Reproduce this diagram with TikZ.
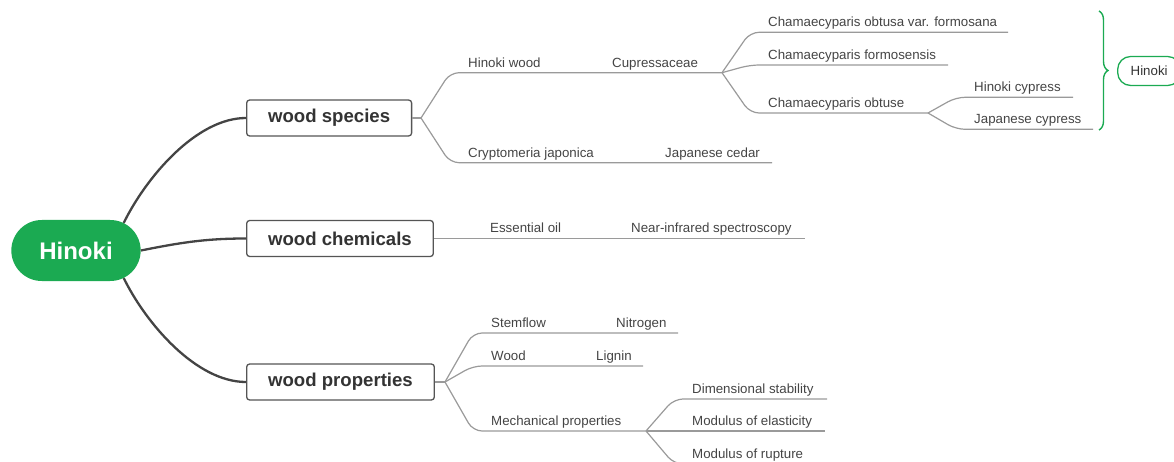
\documentclass[tikz,border=0pt]{standalone}
\usepackage{fontspec}
\setmainfont{Liberation Sans}
\usepackage{tikz}
\usetikzlibrary{shapes.misc,decorations.pathreplacing}
\definecolor{hgreen}{HTML}{1BAA52}
\definecolor{darktext}{HTML}{333333}
\definecolor{leaftext}{HTML}{444444}
\definecolor{boxline}{HTML}{555555}
\definecolor{trunk}{HTML}{444444}
\definecolor{twig}{HTML}{9A9A9A}
\tikzset{
  rootnode/.style={rounded rectangle, fill=hgreen, text=white, minimum width=136pt,
    minimum height=61pt, font=\bfseries\fontsize{24}{28}\selectfont},
  mainbox/.style={draw=boxline, fill=white, line width=1.3pt, rounded corners=3pt,
    anchor=west, minimum height=36pt, inner xsep=21.5pt, text=darktext,
    font=\bfseries\fontsize{18.6}{22}\selectfont},
  tagbox/.style={draw=hgreen, fill=white, line width=1.3pt, rounded corners=13pt,
    anchor=west, minimum height=29pt, inner xsep=13pt, text=darktext,
    font=\fontsize{13.3}{16}\selectfont},
  leaf/.style={anchor=base west, inner sep=0pt, xshift=18pt, yshift=5.5pt,
    text=leaftext, font=\fontsize{13.3}{16}\selectfont},
  trunkline/.style={draw=trunk, line width=2.3pt},
  twigline/.style={draw=twig, line width=1.2pt, rounded corners=9pt},
  bracket/.style={draw=hgreen, line width=1.4pt, decorate,
    decoration={brace, amplitude=9pt}}
}
\begin{document}
\begin{tikzpicture}[x=1pt,y=-1pt]
  \useasboundingbox (0,0) rectangle (1174,462);

  % centre and main topics
  \node[rootnode] (root) at (76,250.5) {Hinoki};
  \node[mainbox] (species) at (246,118) {wood species};
  \node[mainbox] (chem) at (246,238.5) {wood chemicals};
  \node[mainbox] (props) at (246,382) {wood properties};

  \draw[trunkline] (root.30) .. controls +(22,-45) and +(-50,0) .. (species.west);
  \draw[trunkline] (root.east) .. controls +(40,-8) and +(-40,0) .. (chem.west);
  \draw[trunkline] (root.-30) .. controls +(22,45) and +(-50,0) .. (props.west);

  % wood species
  \coordinate (js) at (421,118);
  \coordinate (hw) at (450,72.7);
  \coordinate (cu) at (594,72.7);
  \coordinate (jc) at (722,72.7);
  \coordinate (cr) at (450,162.7);
  \coordinate (ce) at (647,162.7);
  \coordinate (ceend) at (772,162.7);
  \coordinate (cf) at (750,32.3);
  \coordinate (cfend) at (1008,32.3);
  \coordinate (cs) at (750,65);
  \coordinate (csend) at (948,65);
  \coordinate (co) at (750,113);
  \coordinate (jo) at (928,113);
  \coordinate (hc) at (956,97.3);
  \coordinate (hcend) at (1073,97.3);
  \coordinate (jpc) at (956,129.3);
  \coordinate (jpcend) at (1093,129.3);

  \draw[twigline] (species.east) -- (js);
  \draw[twigline] (js) -- (hw) -- (jc);
  \draw[twigline] (js) -- (cr) -- (ceend);
  \draw[twigline] (jc) -- (cf) -- (cfend);
  \draw[twigline] (jc) -- (cs) -- (csend);
  \draw[twigline] (jc) -- (co) -- (jo);
  \draw[twigline] (jo) -- (hc) -- (hcend);
  \draw[twigline] (jo) -- (jpc) -- (jpcend);

  \node[leaf] (hwtext) at (hw) {Hinoki wood};
  \node[leaf] (cutext) at (cu) {Cupressaceae};
  \node[leaf] (crtext) at (cr) {Cryptomeria japonica};
  \node[leaf] (cetext) at (ce) {Japanese cedar};
  \node[leaf] (cftext) at (cf) {Chamaecyparis obtusa var. formosana};
  \node[leaf] (cstext) at (cs) {Chamaecyparis formosensis};
  \node[leaf] (cotext) at (co) {Chamaecyparis obtuse};
  \node[leaf] (hctext) at (hc) {Hinoki cypress};
  \node[leaf] (jpctext) at (jpc) {Japanese cypress};

  \coordinate (brtop) at (1099,11);
  \coordinate (brbot) at (1099,130);
  \draw[bracket] (brtop) -- (brbot);
  \node[tagbox] (tag) at (1117,71) {Hinoki};

  % wood chemicals
  \coordinate (eo) at (472,238.5);
  \coordinate (ni) at (613,238.5);
  \coordinate (niend) at (805,238.5);
  \draw[twigline] (chem.east) -- (niend);
  \node[leaf] (eotext) at (eo) {Essential oil};
  \node[leaf] (nitext) at (ni) {Near-infrared spectroscopy};

  % wood properties
  \coordinate (jp) at (445,382);
  \coordinate (st) at (473,333);
  \coordinate (nt) at (598,333);
  \coordinate (ntend) at (678,333);
  \coordinate (wd) at (473,366);
  \coordinate (lg) at (578,366);
  \coordinate (lgend) at (643,366);
  \coordinate (mp) at (473,431);
  \coordinate (jm) at (646,431);
  \coordinate (ds) at (674,399);
  \coordinate (dsend) at (827,399);
  \coordinate (me) at (674,431);
  \coordinate (meend) at (825,431);
  \coordinate (mr) at (674,464);
  \coordinate (mrend) at (826,464);

  \draw[twigline] (props.east) -- (jp);
  \draw[twigline] (jp) -- (st) -- (ntend);
  \draw[twigline] (jp) -- (wd) -- (lgend);
  \draw[twigline] (jp) -- (mp) -- (jm);
  \draw[twigline] (jm) -- (ds) -- (dsend);
  \draw[twigline] (jm) -- (meend);
  \draw[twigline] (jm) -- (mr) -- (mrend);

  \node[leaf] (sttext) at (st) {Stemflow};
  \node[leaf] (nttext) at (nt) {Nitrogen};
  \node[leaf] (wdtext) at (wd) {Wood};
  \node[leaf] (lgtext) at (lg) {Lignin};
  \node[leaf] (mptext) at (mp) {Mechanical properties};
  \node[leaf] (dstext) at (ds) {Dimensional stability};
  \node[leaf] (metext) at (me) {Modulus of elasticity};
  \node[leaf] (mrtext) at (mr) {Modulus of rupture};
\end{tikzpicture}
\end{document}
